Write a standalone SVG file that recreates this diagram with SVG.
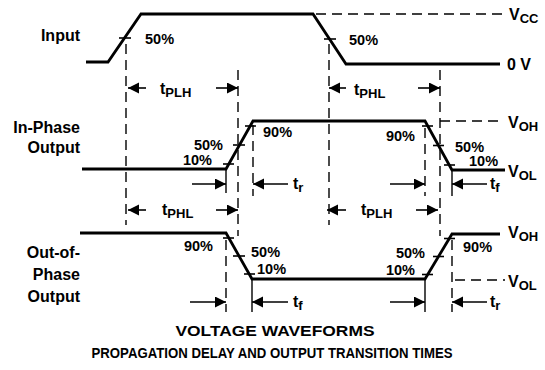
<svg xmlns="http://www.w3.org/2000/svg" width="545" height="370" viewBox="0 0 545 370">
<style>
.w{fill:none;stroke:#000;stroke-width:2.8;stroke-linejoin:miter}
.d{fill:none;stroke:#000;stroke-width:1.4;stroke-dasharray:10,6}
.s{fill:none;stroke:#000;stroke-width:1.4}
.a{fill:none;stroke:#000;stroke-width:1.6;marker-end:url(#ah)}
.tk{stroke:#000;stroke-width:1.6}
text{font-family:"Liberation Sans",Arial,sans-serif;font-weight:bold;font-size:16px;fill:#000}
.p{font-size:14.5px}
.sub{font-size:13px}
.t1{font-size:15.5px}
.t2{font-size:14.5px}
</style>
<defs>
<marker id="ah" markerUnits="userSpaceOnUse" markerWidth="12" markerHeight="12" refX="11" refY="5.5" orient="auto">
<path d="M0,0 L11,5.5 L0,11 Z" fill="#000"/>
</marker>
</defs>
<g id="connectors">
<line class="d" x1="126" y1="44" x2="126" y2="225"/>
<line class="d" x1="238" y1="70" x2="238" y2="236"/>
<line class="d" x1="329" y1="44" x2="329" y2="225"/>
<line class="d" x1="440" y1="70" x2="440" y2="236"/>
<line class="d" x1="253" y1="125" x2="253" y2="196"/>
<line class="s" x1="226" y1="170" x2="226" y2="193"/>
<line class="d" x1="425" y1="128" x2="425" y2="196"/>
<line class="s" x1="452" y1="171" x2="452" y2="196"/>
<line class="d" x1="226" y1="240" x2="226" y2="312"/>
<line class="s" x1="252" y1="280" x2="252" y2="312"/>
<line class="s" x1="425" y1="280" x2="425" y2="312"/>
<line class="d" x1="452" y1="240" x2="452" y2="312"/>
<line class="d" x1="316" y1="14" x2="505" y2="14"/>
<line class="d" x1="440" y1="121" x2="503" y2="121"/>
<line class="d" x1="455" y1="280" x2="505" y2="280"/>
<line class="a" x1="146" y1="88" x2="128" y2="88"/>
<line class="a" x1="216" y1="88" x2="238" y2="88"/>
<line class="a" x1="346" y1="88" x2="329" y2="88"/>
<line class="a" x1="418" y1="88" x2="440" y2="88"/>
<line class="a" x1="192" y1="184" x2="226" y2="184"/>
<line class="a" x1="288" y1="184" x2="253" y2="184"/>
<line class="a" x1="390" y1="184" x2="425" y2="184"/>
<line class="a" x1="487" y1="184" x2="452" y2="184"/>
<line class="a" x1="146" y1="210" x2="128" y2="210"/>
<line class="a" x1="216" y1="210" x2="238" y2="210"/>
<line class="a" x1="346" y1="210" x2="327" y2="210"/>
<line class="a" x1="416" y1="210" x2="438" y2="210"/>
<line class="a" x1="190" y1="302" x2="226" y2="302"/>
<line class="a" x1="288" y1="302" x2="252" y2="302"/>
<line class="a" x1="390" y1="302" x2="425" y2="302"/>
<line class="a" x1="487" y1="302" x2="452" y2="302"/>
</g>
<g id="input">
<polyline class="w" points="86,62 108,62 141,14 313,14 346,64 500,64"/>
<line class="tk" x1="119" y1="38" x2="131" y2="38"/>
<line class="tk" x1="324" y1="39" x2="336" y2="39"/>
<text x="80" y="41" text-anchor="end">Input</text>
<text class="p" x="145" y="44">50%</text>
<text class="p" x="349" y="45">50%</text>
<text x="509" y="20">V<tspan class="sub" dy="3">CC</tspan></text>
<text x="507" y="70">0 V</text>
<text x="160" y="94">t<tspan class="sub" dy="3">PLH</tspan></text>
<text x="354" y="95">t<tspan class="sub" dy="3">PHL</tspan></text>
</g>
<g id="inphase">
<polyline class="w" points="82,169 226,169 253,121 425,121 452,170 505,170"/>
<line class="tk" x1="223" y1="164" x2="234" y2="164"/>
<line class="tk" x1="233" y1="145" x2="245" y2="145"/>
<line class="tk" x1="245" y1="126" x2="256" y2="126"/>
<line class="tk" x1="422" y1="126" x2="433" y2="126"/>
<line class="tk" x1="433" y1="145.5" x2="444" y2="145.5"/>
<line class="tk" x1="444" y1="165" x2="455" y2="165"/>
<text x="80" y="133" text-anchor="end">In-Phase</text>
<text x="80" y="153" text-anchor="end">Output</text>
<text class="p" x="223" y="150" text-anchor="end">50%</text>
<text class="p" x="212" y="165" text-anchor="end">10%</text>
<text class="p" x="263" y="137">90%</text>
<text class="p" x="415" y="141" text-anchor="end">90%</text>
<text class="p" x="455" y="152">50%</text>
<text class="p" x="469" y="166">10%</text>
<text x="508" y="128">V<tspan class="sub" dy="3">OH</tspan></text>
<text x="508" y="177">V<tspan class="sub" dy="3">OL</tspan></text>
<text x="293" y="189">t<tspan class="sub" dy="3">r</tspan></text>
<text x="490" y="189">t<tspan class="sub" dy="3">f</tspan></text>
<text x="162" y="215">t<tspan class="sub" dy="3">PHL</tspan></text>
<text x="361" y="215">t<tspan class="sub" dy="3">PLH</tspan></text>
</g>
<g id="outphase">
<polyline class="w" points="80,233 226,233 252,279 425,279 452,234 500,234"/>
<line class="tk" x1="223" y1="238" x2="234" y2="238"/>
<line class="tk" x1="233" y1="256" x2="245" y2="256"/>
<line class="tk" x1="244" y1="274" x2="255" y2="274"/>
<line class="tk" x1="422" y1="274.5" x2="433" y2="274.5"/>
<line class="tk" x1="433" y1="256.5" x2="444" y2="256.5"/>
<line class="tk" x1="444" y1="238.5" x2="455" y2="238.5"/>
<text x="80" y="258" text-anchor="end">Out-of-</text>
<text x="80" y="280" text-anchor="end">Phase</text>
<text x="80" y="302" text-anchor="end">Output</text>
<text class="p" x="213" y="251" text-anchor="end">90%</text>
<text class="p" x="251" y="257">50%</text>
<text class="p" x="257" y="274">10%</text>
<text class="p" x="425" y="258" text-anchor="end">50%</text>
<text class="p" x="415" y="275" text-anchor="end">10%</text>
<text class="p" x="463" y="252">90%</text>
<text x="508" y="238">V<tspan class="sub" dy="3">OH</tspan></text>
<text x="508" y="287">V<tspan class="sub" dy="3">OL</tspan></text>
<text x="293" y="307">t<tspan class="sub" dy="3">f</tspan></text>
<text x="490" y="307">t<tspan class="sub" dy="3">r</tspan></text>
</g>
<g id="title">
<text class="t1" x="275" y="336" text-anchor="middle" textLength="199" lengthAdjust="spacingAndGlyphs">VOLTAGE WAVEFORMS</text>
<text class="t2" x="272" y="358" text-anchor="middle" textLength="361" lengthAdjust="spacingAndGlyphs">PROPAGATION DELAY AND OUTPUT TRANSITION TIMES</text>
</g>
</svg>
